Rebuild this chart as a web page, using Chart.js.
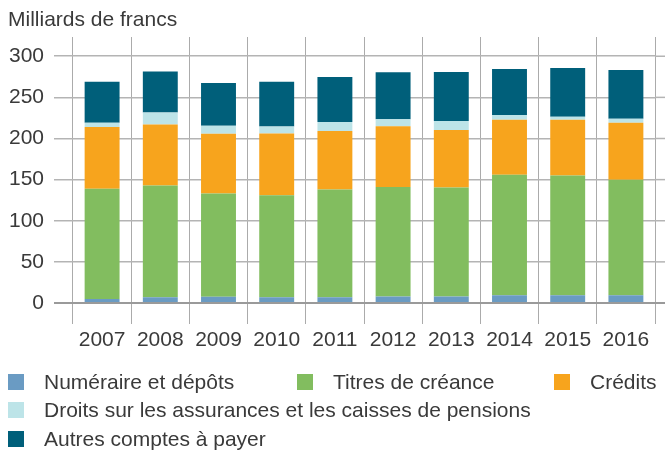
<!DOCTYPE html>
<html><head><meta charset="utf-8">
<script src="https://cdn.jsdelivr.net/npm/chart.js@4/dist/chart.umd.min.js"></script>
<style>
html,body{margin:0;padding:0;background:#fff;}
#wrap{position:relative;width:665px;height:453px;font-family:'Liberation Sans',Arial,sans-serif;color:#3a3a3a;}
#title{position:absolute;left:8px;top:6px;font-size:21px;line-height:26px;white-space:nowrap;}
.lg{position:absolute;font-size:21px;line-height:26px;white-space:nowrap;}
.sq{position:absolute;width:16px;height:16px;}
canvas{position:absolute;left:0;top:0;}
</style></head>
<body>
<div id="wrap">
<canvas id="c" width="665" height="453"></canvas>
<div id="title">Milliards de francs</div>
<div id="legend"></div>
</div>
<script>
const categories = ['2007','2008','2009','2010','2011','2012','2013','2014','2015','2016'];
const numeraire = [5, 7, 7.7, 7, 7, 8, 8, 9.3, 9.3, 9.3];
const titres = [134, 136, 125.5, 124, 131, 133, 132.4, 146.6, 145.8, 140.5];
const credits = [75, 74, 72.5, 75, 71, 74, 70, 66.8, 67.6, 69.2];
const droits = [5, 14.6, 9.7, 8.5, 11, 8.5, 11, 6, 3.6, 4.9];
const autres = [50, 50, 52.2, 54.6, 54.7, 57, 59.5, 55.9, 59.5, 59.5];
const yTicks = [0, 50, 100, 150, 200, 250, 300];
const seriesLabels = ['Numéraire et dépôts','Titres de créance','Crédits','Droits sur les assurances et les caisses de pensions','Autres comptes à payer'];
const seriesColors = ['#6a9bc3','#82bd5f','#f7a41d','#bde4e8','#005f7a'];
const seriesData = [numeraire, titres, credits, droits, autres];

const font = {family:"'Liberation Sans', Arial, sans-serif", size:21};
const txt = '#3a3a3a';

const extendGrid = {
  id:'extendGrid',
  afterDraw(chart){
    const ctx = chart.ctx, y = chart.scales.y, a = chart.chartArea;
    ctx.save();
    yTicks.forEach(v=>{
      const py = y.getPixelForValue(v);
      ctx.strokeStyle = v===0 ? '#9a9a9a' : '#b4b4b4';
      ctx.lineWidth = v===0 ? 2 : 1.5;
      ctx.beginPath(); ctx.moveTo(a.right, py); ctx.lineTo(chart.width, py); ctx.stroke();
    });
    ctx.restore();
  }
};

new Chart(document.getElementById('c'), {
  type:'bar',
  data:{
    labels:categories,
    datasets: seriesData.map((d,i)=>({label:seriesLabels[i], data:d, backgroundColor:seriesColors[i], borderWidth:0, barPercentage:0.6, categoryPercentage:1}))
  },
  options:{
    responsive:false, animation:false,
    layout:{padding:{left:8, right:10, top:37, bottom:80}},
    plugins:{legend:{display:false}, title:{display:false}, tooltip:{enabled:false}},
    scales:{
      x:{stacked:true, offset:true,
        border:{display:false},
        grid:{offset:true, color:'#ababab', lineWidth:1, tickLength:21, drawTicks:true},
        ticks:{color:txt, font:font, padding:4, maxRotation:0},
        afterFit(s){ s.height = 70; }
      },
      y:{stacked:true, min:0, max:323.4,
        border:{display:false},
        afterBuildTicks(s){ s.ticks = yTicks.map(v=>({value:v})); },
        grid:{color:c=>c.tick && c.tick.value===0 ? '#9a9a9a' : '#b4b4b4', lineWidth:c=>c.tick && c.tick.value===0 ? 2 : 1.5, tickLength:19},
        ticks:{color:txt, font:font, padding:10},
        afterFit(s){ s.width = 65; }
      }
    }
  },
  plugins:[extendGrid]
});

// HTML legend built from series arrays
const legendPos = [[8,382],[297,382],[554,382],[8,410],[8,439]];
const lg = document.getElementById('legend');
seriesLabels.forEach((l,i)=>{
  const [x,y] = legendPos[i];
  const s = document.createElement('div'); s.className='sq';
  s.style.left = x+'px'; s.style.top = (y-8)+'px'; s.style.background = seriesColors[i];
  const t = document.createElement('div'); t.className='lg';
  t.style.left = (x+36)+'px'; t.style.top = (y-13)+'px'; t.textContent = l;
  lg.appendChild(s); lg.appendChild(t);
});
</script>
</body></html>
